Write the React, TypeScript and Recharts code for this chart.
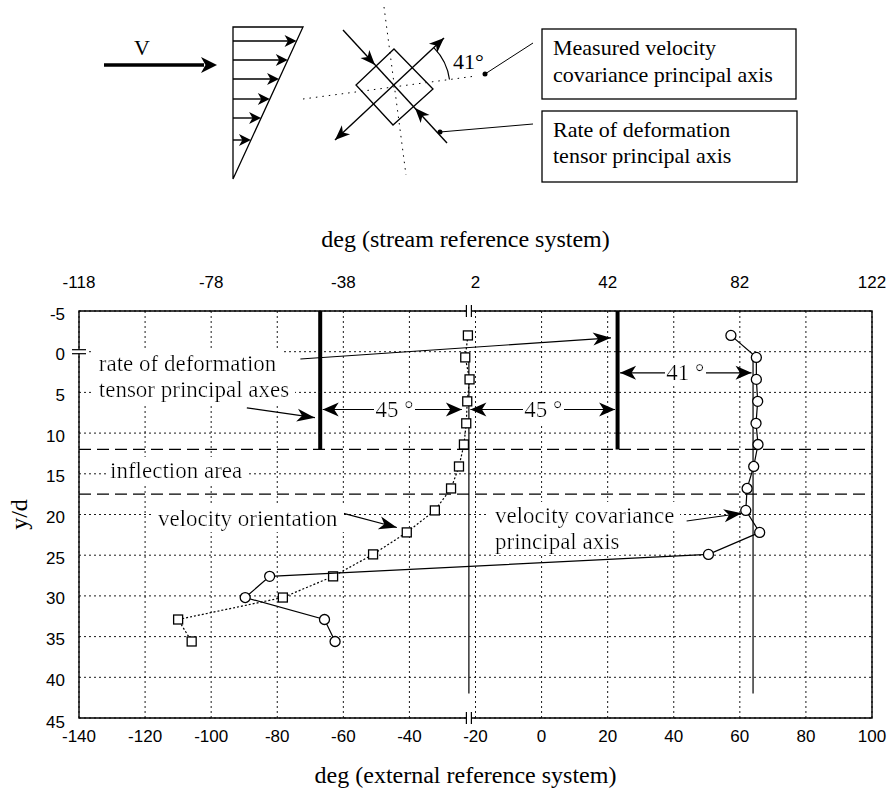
import React from 'react'
import {
  ScatterChart,
  Scatter,
  XAxis,
  YAxis,
  CartesianGrid,
  ReferenceLine,
  ReferenceDot,
  ReferenceArea,
} from 'recharts'

// y/d stations of the measurements
const yOverD = [-2, 0.7, 3.4, 6.1, 8.8, 11.4, 14.1, 16.8, 19.5, 22.2, 24.9, 27.6, 30.2, 32.9, 35.6]
// velocity orientation, deg (external reference system)
const velocityOrientation = [-22.3, -23.1, -21.8, -22.5, -22.8, -23.5, -25, -27.4, -32.3, -40.8, -51, -63.1, -78.3, -110, -105.9]
// velocity covariance principal axis, deg (external reference system)
const covarianceAxis = [57.3, 65, 65, 65.4, 64.9, 65.5, 64.2, 62.2, 61.8, 66, 50.5, -82.3, -89.7, -65.7, -62.5]

const externalTicks = [-140, -120, -100, -80, -60, -40, -20, 0, 20, 40, 60, 80, 100]
const ydTicks = [-5, 0, 5, 10, 15, 20, 25, 30, 35, 40, 45]
const streamOffset = 22 // stream angle = external angle + 22
const streamTicks = [-118, -78, -38, 2, 42, 82, 122]

const meanOrientation = -22 // 0 deg in the stream system
const strainAngle = 45
const covarianceAngle = 41
const strainAxes = [meanOrientation - strainAngle, meanOrientation + strainAngle]
const meanCovariance = strainAxes[1] + covarianceAngle
const inflectionBounds = [12, 17.5]

// velocity orientation is plotted against the stream axis (top), covariance against the external one
const squares = yOverD.map((y, i) => ({ x: velocityOrientation[i] + streamOffset, y }))
const circles = yOverD.map((y, i) => ({ x: covarianceAxis[i], y }))

const SANS = '"Liberation Sans", Arial, sans-serif'
const SERIF = '"Liberation Serif", "Times New Roman", serif'

function arrowHead(tx: number, ty: number, fx: number, fy: number, len: number, half: number) {
  const a = Math.atan2(ty - fy, tx - fx)
  const c = Math.cos(a)
  const s = Math.sin(a)
  const bx = tx - len * c
  const by = ty - len * s
  const nx = tx - len * 0.72 * c
  const ny = ty - len * 0.72 * s
  return `${tx},${ty} ${bx - half * s},${by + half * c} ${nx},${ny} ${bx + half * s},${by - half * c}`
}

// annotation texts inside the plot, in data units (left edge, vertical centre)
const notes = [
  { x: -134, y: 1.4, text: 'rate of deformation' },
  { x: -134, y: 4.7, text: 'tensor principal axes' },
  { x: -130.6, y: 14.6, text: 'inflection area' },
  { x: -116.1, y: 20.5, text: 'velocity orientation' },
  { x: -14.1, y: 20.1, text: 'velocity covariance' },
  { x: -14.1, y: 23.3, text: 'principal axis' },
]

const pointers = [
  { from: { x: -73, y: 0.9 }, to: { x: 21, y: -1.7 } },
  { from: { x: -89.2, y: 6.9 }, to: { x: -68.6, y: 8.1 } },
  { from: { x: -60.5, y: 19.8 }, to: { x: -43.8, y: 21.6 } },
  { from: { x: 43.9, y: 20.8 }, to: { x: 60.6, y: 19.85 } },
]

const spans = [
  { from: strainAxes[0], to: meanOrientation, y: 7.1, pad: [2.5, 7], angle: strainAngle },
  { from: meanOrientation, to: strainAxes[1], y: 7.1, pad: [1.5, 2.5], angle: strainAngle },
  { from: strainAxes[1], to: meanCovariance, y: 2.6, pad: [2.5, 1.5], angle: covarianceAngle },
]

const BottomTick = ({ x, y, payload }: any) => (
  <text x={x} y={y + 16} textAnchor="middle" dominantBaseline="central" fontFamily={SANS} fontSize={17} fill="#000">
    {payload.value}
  </text>
)

const TopTick = ({ x, y, payload }: any) => (
  <text x={x} y={y - 27} textAnchor="middle" dominantBaseline="central" fontFamily={SANS} fontSize={17} fill="#000">
    {payload.value}
  </text>
)

const LeftTick = ({ x, y, payload }: any) => (
  <text
    x={x - 12}
    y={y + (payload.value === 45 ? 4 : 3)}
    textAnchor="end"
    dominantBaseline="central"
    fontFamily={SANS}
    fontSize={17}
    fill="#000"
  >
    {payload.value}
  </text>
)

const square = ({ cx, cy }: any) => (
  <rect x={cx - 4.5} y={cy - 4.5} width={9} height={9} fill="#fff" stroke="#000" strokeWidth={1.3} />
)

const circle = ({ cx, cy }: any) => <circle cx={cx} cy={cy} r={5} fill="#fff" stroke="#000" strokeWidth={1.3} />

const noteShape = (text: string, anchor = 'start') => (p: any) => (
  <text
    x={p.cx}
    y={p.cy}
    textAnchor={anchor}
    dominantBaseline="central"
    fontFamily={SERIF}
    fontSize={23}
    fill="#000"
    filter="url(#note-bg)"
  >
    {text}
  </text>
)

const pointerShape = (p: any) => (
  <g>
    <line x1={p.x1} y1={p.y1} x2={p.x2} y2={p.y2} stroke="#000" strokeWidth={1.2} />
    <polygon points={arrowHead(p.x2, p.y2, p.x1, p.y1, 18, 6.5)} fill="#000" />
  </g>
)

const spanShape = (pad: number[]) => (p: any) => {
  const x1 = p.x1 + pad[0]
  const x2 = p.x2 - pad[1]
  return (
    <g>
      <line x1={x1} y1={p.y1} x2={x2} y2={p.y2} stroke="#000" strokeWidth={1.2} />
      <polygon points={arrowHead(x1, p.y1, x2, p.y2, 16, 7)} fill="#000" />
      <polygon points={arrowHead(x2, p.y2, x1, p.y1, 16, 7)} fill="#000" />
    </g>
  )
}

const verticalBreak = (p: any) => (
  <g>
    <rect x={p.cx - 2.5} y={p.cy - 6} width={5} height={12} fill="#fff" />
    <line x1={p.cx - 2.5} x2={p.cx - 2.5} y1={p.cy - 6} y2={p.cy + 6} stroke="#000" strokeWidth={1.2} />
    <line x1={p.cx + 2.5} x2={p.cx + 2.5} y1={p.cy - 6} y2={p.cy + 6} stroke="#000" strokeWidth={1.2} />
  </g>
)

const horizontalBreak = (p: any) => (
  <g>
    <rect x={p.cx - 7} y={p.cy - 2} width={14} height={4} fill="#fff" />
    <line x1={p.cx - 7} x2={p.cx + 7} y1={p.cy - 2} y2={p.cy - 2} stroke="#000" strokeWidth={1.2} />
    <line x1={p.cx - 7} x2={p.cx + 7} y1={p.cy + 2} y2={p.cy + 2} stroke="#000" strokeWidth={1.2} />
  </g>
)

// sketch of the shear profile and the two principal axes
function Schematic() {
  const hyp = (y: number) => 303 - (y - 27) * (70 / 152)
  const rows = [41, 60, 79, 99, 118, 140]
  const txt = { fontFamily: SERIF, fontSize: 22, fill: '#000' }
  return (
    <svg width={888} height={200} style={{ position: 'absolute', left: 0, top: 0 }}>
      <defs>
        <filter id="note-bg" x="-0.03" y="-0.02" width="1.06" height="1.04">
          <feFlood floodColor="#fff" />
          <feComposite in="SourceGraphic" />
        </filter>
      </defs>
      <text x={142} y={55} textAnchor="middle" {...txt}>V</text>
      <line x1={104} y1={65} x2={204} y2={65} stroke="#000" strokeWidth={3.5} />
      <polygon points={arrowHead(217, 65, 104, 65, 16, 8)} fill="#000" />

      <polygon points="233,27 303,27 233,179" fill="none" stroke="#000" strokeWidth={1.3} />
      {rows.map((y) => (
        <g key={y}>
          <line x1={233} y1={y} x2={hyp(y) - 6} y2={y} stroke="#000" strokeWidth={1.4} />
          <polygon points={arrowHead(hyp(y), y, 233, y, 12, 6)} fill="#000" />
        </g>
      ))}

      <line x1={384} y1={7} x2={406} y2={175} stroke="#000" strokeWidth={1} strokeDasharray="1.5 5" />
      <line x1={303} y1={99} x2={476} y2={76} stroke="#000" strokeWidth={1} strokeDasharray="1.5 5" />
      <polygon points="394,49 433,89 393,125 356,85" fill="none" stroke="#000" strokeWidth={1.3} />

      <line x1={343} y1={30} x2={447} y2={143} stroke="#000" strokeWidth={1.4} />
      <polygon points={arrowHead(375, 65, 343, 30, 15, 6)} fill="#000" />
      <polygon points={arrowHead(415, 108, 447, 143, 15, 6)} fill="#000" />

      <line x1={335} y1={140} x2={444} y2={38} stroke="#000" strokeWidth={1.4} />
      <polygon points={arrowHead(335, 140, 444, 38, 15, 6)} fill="#000" />
      <polygon points={arrowHead(444, 38, 335, 140, 15, 6)} fill="#000" />

      <path d="M449.5,79.5 A56,56 0 0 0 434,47.8" fill="none" stroke="#000" strokeWidth={1.2} />
      <text x={453} y={69} {...txt}>41°</text>

      <line x1={485} y1={74} x2={533} y2={43} stroke="#000" strokeWidth={1} />
      <circle cx={485} cy={74} r={2.5} fill="#000" />
      <line x1={440} y1={132} x2={533} y2={124} stroke="#000" strokeWidth={1} />
      <circle cx={440} cy={132} r={2.5} fill="#000" />

      <rect x={542} y={29} width={254} height={70} fill="#fff" stroke="#000" strokeWidth={1.3} />
      <text x={553} y={55} {...txt}>Measured velocity</text>
      <text x={553} y={82} {...txt}>covariance principal axis</text>
      <rect x={542} y={111} width={255} height={71} fill="#fff" stroke="#000" strokeWidth={1.3} />
      <text x={553} y={137} {...txt}>Rate of deformation</text>
      <text x={553} y={163} {...txt}>tensor principal axis</text>
    </svg>
  )
}

export default function App() {
  return (
    <div style={{ position: 'absolute', left: 0, top: 0, width: 888, height: 789, background: '#fff' }}>
      <ScatterChart width={888} height={789} margin={{ top: 281, right: 16, bottom: 41, left: 0 }}>
        <CartesianGrid stroke="#000" strokeWidth={0.9} strokeDasharray="2 3" />
        <XAxis
          type="number"
          dataKey="x"
          domain={[-140, 100]}
          ticks={externalTicks}
          interval={0}
          height={30}
          axisLine={false}
          tickLine={false}
          tickSize={0}
          tick={BottomTick}
          label={{ value: 'deg (external reference system)', position: 'bottom', offset: 18, dx: -10, fill: '#000', fontSize: 24, fontFamily: SERIF }}
        />
        <XAxis
          xAxisId="top"
          orientation="top"
          type="number"
          dataKey="x"
          domain={[-140 + streamOffset, 100 + streamOffset]}
          allowDataOverflow
          ticks={streamTicks}
          interval={0}
          height={30}
          axisLine={false}
          tickLine={false}
          tickSize={0}
          tick={TopTick}
          label={{ value: 'deg (stream reference system)', position: 'top', offset: 34, dx: -10, fill: '#000', fontSize: 24, fontFamily: SERIF }}
        />
        <YAxis
          type="number"
          dataKey="y"
          domain={[-5, 45]}
          reversed
          ticks={ydTicks}
          interval={0}
          width={79}
          axisLine={false}
          tickLine={false}
          tickSize={0}
          tick={LeftTick}
          label={{ value: 'y/d', angle: -90, position: 'insideLeft', offset: 18, fill: '#000', fontSize: 24, fontFamily: SERIF, style: { textAnchor: 'middle' } }}
        />

        <ReferenceArea x1={-140} x2={100} y1={-5} y2={45} fill="none" stroke="#000" strokeWidth={1.4} ifOverflow="visible" />

        {inflectionBounds.map((y) => (
          <ReferenceLine key={y} y={y} stroke="#000" strokeWidth={1.2} strokeDasharray="12 6" ifOverflow="visible" />
        ))}
        {strainAxes.map((x) => (
          <ReferenceLine
            key={x}
            segment={[{ x, y: -5 }, { x, y: inflectionBounds[0] }]}
            stroke="#000"
            strokeWidth={4}
            ifOverflow="visible"
          />
        ))}
        <ReferenceLine segment={[{ x: meanOrientation, y: 0.7 }, { x: meanOrientation, y: 42 }]} stroke="#000" strokeWidth={1.2} ifOverflow="visible" />
        <ReferenceLine segment={[{ x: meanCovariance, y: 0.7 }, { x: meanCovariance, y: 42 }]} stroke="#000" strokeWidth={1.2} ifOverflow="visible" />

        {pointers.map((a, i) => (
          <ReferenceLine key={`p${i}`} segment={[a.from, a.to]} shape={pointerShape} ifOverflow="visible" />
        ))}
        {spans.map((s, i) => (
          <ReferenceLine key={`s${i}`} segment={[{ x: s.from, y: s.y }, { x: s.to, y: s.y }]} shape={spanShape(s.pad)} ifOverflow="visible" />
        ))}
        {spans.map((s, i) => (
          <ReferenceDot key={`t${i}`} x={(s.from + s.to) / 2} y={s.y} shape={noteShape(`${s.angle} °`, 'middle')} ifOverflow="visible" />
        ))}
        {notes.map((n, i) => (
          <ReferenceDot key={`n${i}`} x={n.x} y={n.y} shape={noteShape(n.text)} ifOverflow="visible" />
        ))}

        <ReferenceDot x={meanOrientation} y={-5} shape={verticalBreak} ifOverflow="visible" />
        <ReferenceDot x={meanOrientation} y={45} shape={verticalBreak} ifOverflow="visible" />
        <ReferenceDot x={-140} y={0} shape={horizontalBreak} ifOverflow="visible" />

        <Scatter
          name="velocity orientation"
          xAxisId="top"
          data={squares}
          shape={square}
          line={{ stroke: '#000', strokeWidth: 1.2, strokeDasharray: '2 2' }}
          isAnimationActive={false}
        />
        <Scatter
          name="velocity covariance principal axis"
          data={circles}
          shape={circle}
          line={{ stroke: '#000', strokeWidth: 1.2 }}
          isAnimationActive={false}
        />
      </ScatterChart>
      <Schematic />
    </div>
  )
}
